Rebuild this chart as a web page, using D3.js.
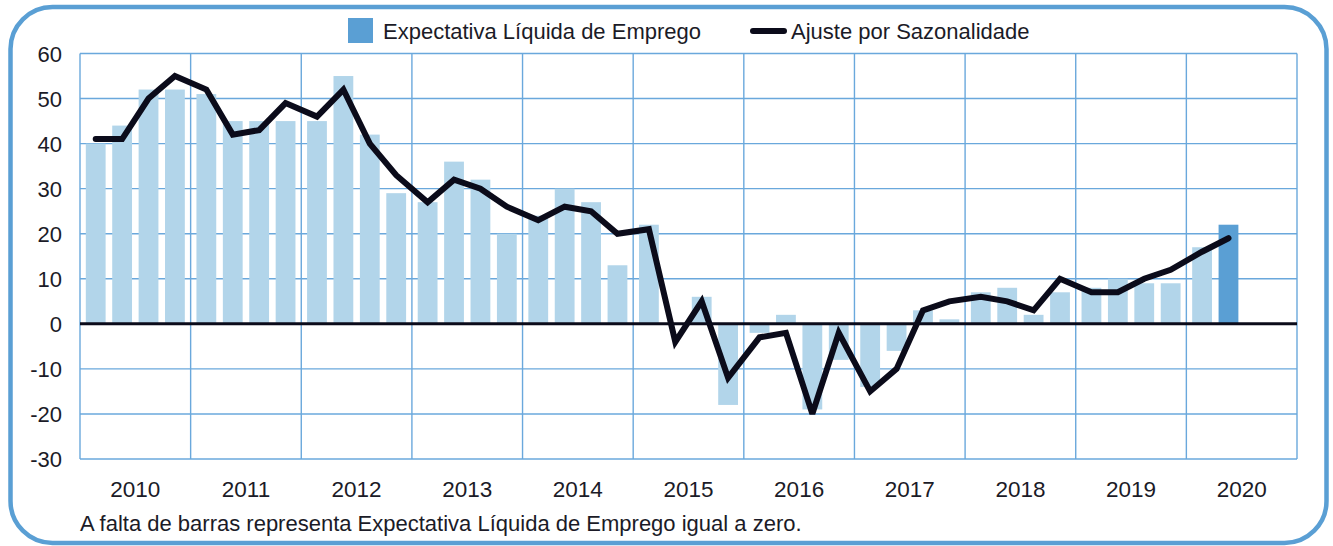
<!DOCTYPE html>
<html>
<head>
<meta charset="utf-8">
<script src="https://cdn.jsdelivr.net/npm/d3@7"></script>
<style>
  html, body { margin: 0; padding: 0; background: #ffffff; }
  svg { display: block; }
  text { font-family: "Liberation Sans", Arial, Helvetica, sans-serif; fill: #1b1b27; }
</style>
</head>
<body>
<svg id="chart" width="1333" height="546"></svg>
<script>
// ---- Data ----
const years = [2010, 2011, 2012, 2013, 2014, 2015, 2016, 2017, 2018, 2019, 2020];
const quartersPerYear = [4, 4, 4, 4, 4, 4, 4, 4, 4, 4, 2];
const yTicks = [-30, -20, -10, 0, 10, 20, 30, 40, 50, 60];
const expectativa = [
  40, 44, 52, 52,
  51, 45, 45, 45,
  45, 55, 42, 29,
  27, 36, 32, 20,
  24, 30, 27, 13,
  22, 0, 6, -18,
  -2, 2, -19, -8,
  -14, -6, 3, 1,
  7, 8, 2, 7,
  8, 10, 9, 9,
  17, 22
];
const ajuste = [
  41, 41, 50, 55,
  52, 42, 43, 49,
  46, 52, 40, 33,
  27, 32, 30, 26,
  23, 26, 25, 20,
  21, -4, 5, -12,
  -3, -2, -20, -2,
  -15, -10, 3, 5,
  6, 5, 3, 10,
  7, 7, 10, 12,
  16, 19
];
const legendLabels = ["Expectativa Líquida de Emprego", "Ajuste por Sazonalidade"];
const footnote = "A falta de barras representa Expectativa Líquida de Emprego igual a zero.";

(function () {
// ---- Build quarter records ----
const records = [];
years.forEach((yr, yi) => {
  for (let q = 0; q < quartersPerYear[yi]; q++) {
    records.push({ year: yr, q: q });
  }
});
records.forEach((r, i) => { r.net = expectativa[i]; r.adj = ajuste[i]; });

// ---- Layout ----
const svg = d3.select("#chart");
const pLeft = 80, pRight = 1297, pTop = 53.5, pBottom = 459;

const xYear = d3.scaleBand().domain(years).range([pLeft, pRight]).padding(0);
const xQ = d3.scaleBand().domain([0, 1, 2, 3]).range([0, xYear.bandwidth()])
  .paddingInner(0.25).paddingOuter(0.22);
const y = d3.scaleLinear().domain([-30, 60]).range([pBottom, pTop]);

const cx = d => xYear(d.year) + xQ(d.q) + xQ.bandwidth() / 2;

const gridColor = "#6aa8dc";
const barLight = "#b2d5ea";
const barDark = "#5a9fd4";
const ink = "#0b0b1a";

// Frame
svg.append("rect")
  .attr("x", 10.5).attr("y", 7).attr("width", 1316).attr("height", 536)
  .attr("rx", 42).attr("ry", 42)
  .attr("fill", "none").attr("stroke", "#5a9fd4").attr("stroke-width", 4.5);

// Horizontal gridlines
svg.append("g").selectAll("line").data(yTicks).join("line")
  .attr("x1", pLeft).attr("x2", pRight)
  .attr("y1", d => y(d)).attr("y2", d => y(d))
  .attr("stroke", gridColor).attr("stroke-width", 1.4);

// Vertical gridlines (year boundaries)
const vLines = years.map(yr => xYear(yr)).concat([pRight]);
svg.append("g").selectAll("line").data(vLines).join("line")
  .attr("x1", d => d).attr("x2", d => d)
  .attr("y1", pTop).attr("y2", pBottom)
  .attr("stroke", gridColor).attr("stroke-width", 1.4);

// Bars
const last = records[records.length - 1];
svg.append("g").selectAll("rect").data(records.filter(d => d.net !== 0)).join("rect")
  .attr("x", d => xYear(d.year) + xQ(d.q))
  .attr("width", xQ.bandwidth())
  .attr("y", d => y(Math.max(0, d.net)))
  .attr("height", d => Math.abs(y(d.net) - y(0)))
  .attr("fill", d => (d === last) ? barDark : barLight);

// Zero line
svg.append("line")
  .attr("x1", pLeft).attr("x2", pRight)
  .attr("y1", y(0)).attr("y2", y(0))
  .attr("stroke", ink).attr("stroke-width", 3);

// Seasonally adjusted line
const line = d3.line().x(cx).y(d => y(d.adj));
svg.append("path").datum(records)
  .attr("d", line)
  .attr("fill", "none").attr("stroke", ink).attr("stroke-width", 6)
  .attr("stroke-linejoin", "miter").attr("stroke-miterlimit", 3)
  .attr("stroke-linecap", "round");

// Y axis
const yAxis = d3.axisLeft(y).tickValues(yTicks).tickSize(0).tickPadding(18)
  .tickFormat(d => String(d));
const gy = svg.append("g").attr("transform", `translate(${pLeft},0)`).call(yAxis);
gy.select(".domain").remove();
gy.selectAll("text")
  .style("font-family", "'Liberation Sans', Arial, sans-serif")
  .style("font-size", "22px").attr("fill", "#1b1b27").attr("dy", "0.36em");

// X axis (year labels)
const xAxis = d3.axisBottom(xYear).tickSize(0).tickPadding(0);
const gx = svg.append("g").attr("transform", `translate(0,${pBottom})`).call(xAxis);
gx.select(".domain").remove();
gx.selectAll("text")
  .style("font-family", "'Liberation Sans', Arial, sans-serif")
  .style("font-size", "22.5px").attr("fill", "#1b1b27")
  .attr("y", 38).attr("dy", 0);

// Legend
const lg = svg.append("g");
lg.append("rect").attr("x", 348).attr("y", 18).attr("width", 25).attr("height", 25).attr("fill", barDark);
lg.append("text").attr("x", 383).attr("y", 38.5).style("font-size", "22px").text(legendLabels[0]);
lg.append("line").attr("x1", 753).attr("x2", 784).attr("y1", 31).attr("y2", 31)
  .attr("stroke", ink).attr("stroke-width", 6).attr("stroke-linecap", "round");
lg.append("text").attr("x", 791).attr("y", 38.5).style("font-size", "22px").text(legendLabels[1]);

// Footnote
svg.append("text").attr("x", 80).attr("y", 531).style("font-size", "22px").text(footnote);
})();
</script>
</body>
</html>
